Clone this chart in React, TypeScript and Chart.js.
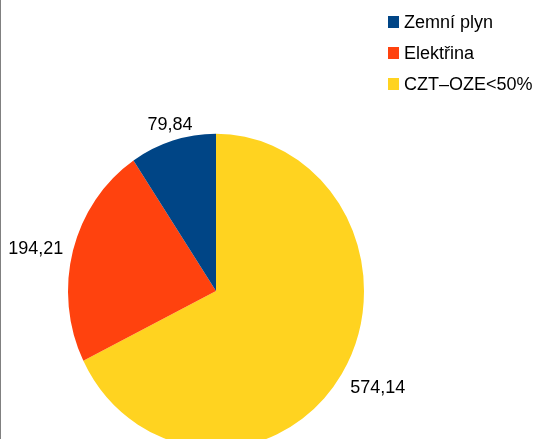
import React, { useEffect, useRef } from "react";
import { Chart, registerables } from "chart.js";

Chart.register(...registerables);

// Drawn clockwise from 12 o'clock
const categories = ["CZT–OZE<50%", "Elektřina", "Zemní plyn"];
const values = [574.14, 194.21, 79.84];
const colors = ["#ffd320", "#ff420e", "#004586"];

const FONT = '18px "Liberation Sans", Arial, sans-serif';
const Y_STRETCH = 1.063;

const fmt = (v: number) => v.toFixed(2).replace(".", ",");

const stretchPlugin = {
  id: "stretch",
  beforeDatasetsDraw(chart: any) {
    const { ctx, chartArea } = chart;
    const cx = (chartArea.left + chartArea.right) / 2;
    const cy = (chartArea.top + chartArea.bottom) / 2;
    ctx.save();
    ctx.translate(cx, cy);
    ctx.scale(1, Y_STRETCH);
    ctx.translate(-cx, -cy);
  },
  afterDatasetsDraw(chart: any) {
    chart.ctx.restore();
  },
};

const labelsPlugin = {
  id: "outerLabels",
  afterDraw(chart: any) {
    const { ctx } = chart;
    const meta = chart.getDatasetMeta(0);
    ctx.save();
    ctx.font = FONT;
    ctx.fillStyle = "#000";
    const capH = 13;
    const gap = 10;
    meta.data.forEach((arc: any, i: number) => {
      const { x, y, startAngle, endAngle, outerRadius } = arc.getProps(
        ["x", "y", "startAngle", "endAngle", "outerRadius"],
        true
      );
      const mid = (startAngle + endAngle) / 2;
      const dx = Math.cos(mid);
      const dy = Math.sin(mid);
      const px = x + dx * (outerRadius + gap);
      const py = y + dy * (outerRadius + gap) * Y_STRETCH;
      const text = fmt(values[i]);
      if (dx > 0.5) ctx.textAlign = "left";
      else if (dx < -0.5) ctx.textAlign = "right";
      else ctx.textAlign = "center";
      ctx.textBaseline = "alphabetic";
      let by: number;
      if (dy > 0.5) by = py + capH;
      else if (dy < -0.5) by = py;
      else by = py + capH / 2;
      ctx.fillText(text, px, by);
    });

    // Legend (reverse order of drawing)
    const order = [2, 1, 0];
    ctx.textAlign = "left";
    ctx.textBaseline = "alphabetic";
    order.forEach((idx, row) => {
      const top = 16 + row * 31;
      ctx.fillStyle = colors[idx];
      ctx.fillRect(388, top, 11, 12);
      ctx.fillStyle = "#000";
      ctx.fillText(categories[idx], 404, top + 12);
    });

    // left border line
    ctx.strokeStyle = "#808080";
    ctx.lineWidth = 1;
    ctx.beginPath();
    ctx.moveTo(0.5, 0);
    ctx.lineTo(0.5, chart.height);
    ctx.stroke();
    ctx.restore();
  },
};

export default function App() {
  const ref = useRef<HTMLCanvasElement | null>(null);
  useEffect(() => {
    document.body.style.margin = "0";
    if (!ref.current) return;
    const chart = new Chart(ref.current, {
      type: "pie",
      data: {
        labels: categories,
        datasets: [
          {
            data: values,
            backgroundColor: colors,
            borderWidth: 0,
            clip: false as any,
          },
        ],
      },
      options: {
        animation: false,
        responsive: false,
        layout: { padding: { left: 68, right: 171, top: 143, bottom: 0 } },
        plugins: {
          legend: { display: false },
          tooltip: { enabled: false },
        },
      },
      plugins: [stretchPlugin, labelsPlugin],
    });
    return () => chart.destroy();
  }, []);
  return (
    <div style={{ width: 535, height: 439, background: "#fff" }}>
      <canvas ref={ref} width={535} height={439} />
    </div>
  );
}
